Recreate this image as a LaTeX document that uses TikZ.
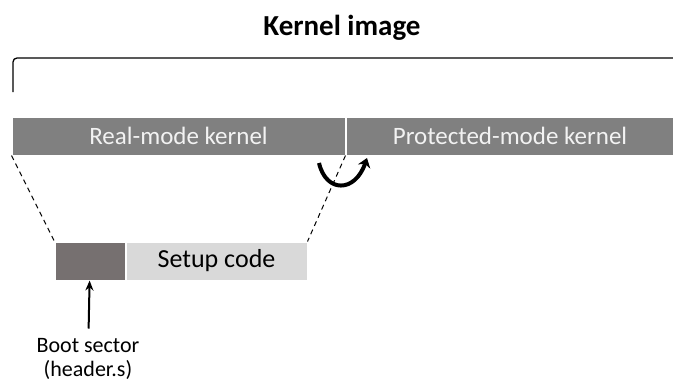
\documentclass[tikz,border=0pt]{standalone}
\usepackage{fontspec}
\setmainfont{Carlito}
\usepackage{xcolor}
\definecolor{kernelcolour}{RGB}{128,128,128}
\definecolor{bootcolour}{RGB}{118,112,112}
\definecolor{setupcolour}{RGB}{217,217,217}
\definecolor{kerneltextcolour}{RGB}{242,242,242}
\usetikzlibrary{arrows.meta, positioning}
\tikzstyle{kernelpart} = [rectangle, minimum height=38pt, inner sep=0pt, draw=white, line width=1pt, fill=kernelcolour, text=kerneltextcolour, font=\fontsize{25}{30}\selectfont]
\tikzstyle{setuppart} = [rectangle, minimum height=38pt, inner sep=0pt, draw=white, line width=1pt, font=\fontsize{26}{30}\selectfont]
\tikzstyle{zoomline} = [dashed, line width=1pt, dash pattern=on 5pt off 4pt]
\tikzstyle{arrow} = [line width=2pt,-{Stealth[length=10pt,width=8pt]}]
\tikzstyle{jumparrow} = [line width=4pt,-{Stealth[length=9pt,width=13pt]}]

\begin{document}
\begin{tikzpicture}[x=1pt, y=-1pt]
	\useasboundingbox (0,0) rectangle (673,384);
	\node (title) at (342,28) {\fontsize{29}{34}\selectfont\textbf{Kernel image}};
	\node (realmode) [kernelpart, minimum width=333pt] at (178.5,136) {Real-mode kernel};
	\node (protmode) [kernelpart, minimum width=328pt, right=0pt of realmode] {Protected-mode kernel};
	\node (boot) [setuppart, minimum width=70pt, fill=bootcolour] at (90,261) {};
	\node (setup) [setuppart, minimum width=181pt, fill=setupcolour, right=0pt of boot] {Setup code};
	\node (bootlabel) [align=center, font=\fontsize{22}{24}\selectfont, below=54pt of boot, xshift=-2pt] {Boot sector\\(header.s)};
	\coordinate (bracketleft) at (13,92);
	\coordinate (bracketright) at (674,58);
	\coordinate (jumpfrom) at (319,163);
	\coordinate (jumpto) at (367,158);
	\draw [rounded corners=4pt, line width=1.3pt] (bracketleft) |- (bracketright);
	\draw [zoomline] (realmode.south west) -- (boot.north west);
	\draw [zoomline] (realmode.south east) -- (setup.north east);
	\draw [arrow, shorten <=6pt] (bootlabel) -- (boot);
	\draw [jumparrow] (jumpfrom) .. controls (326,193) and (355,193) .. (jumpto);
\end{tikzpicture}
\end{document}
